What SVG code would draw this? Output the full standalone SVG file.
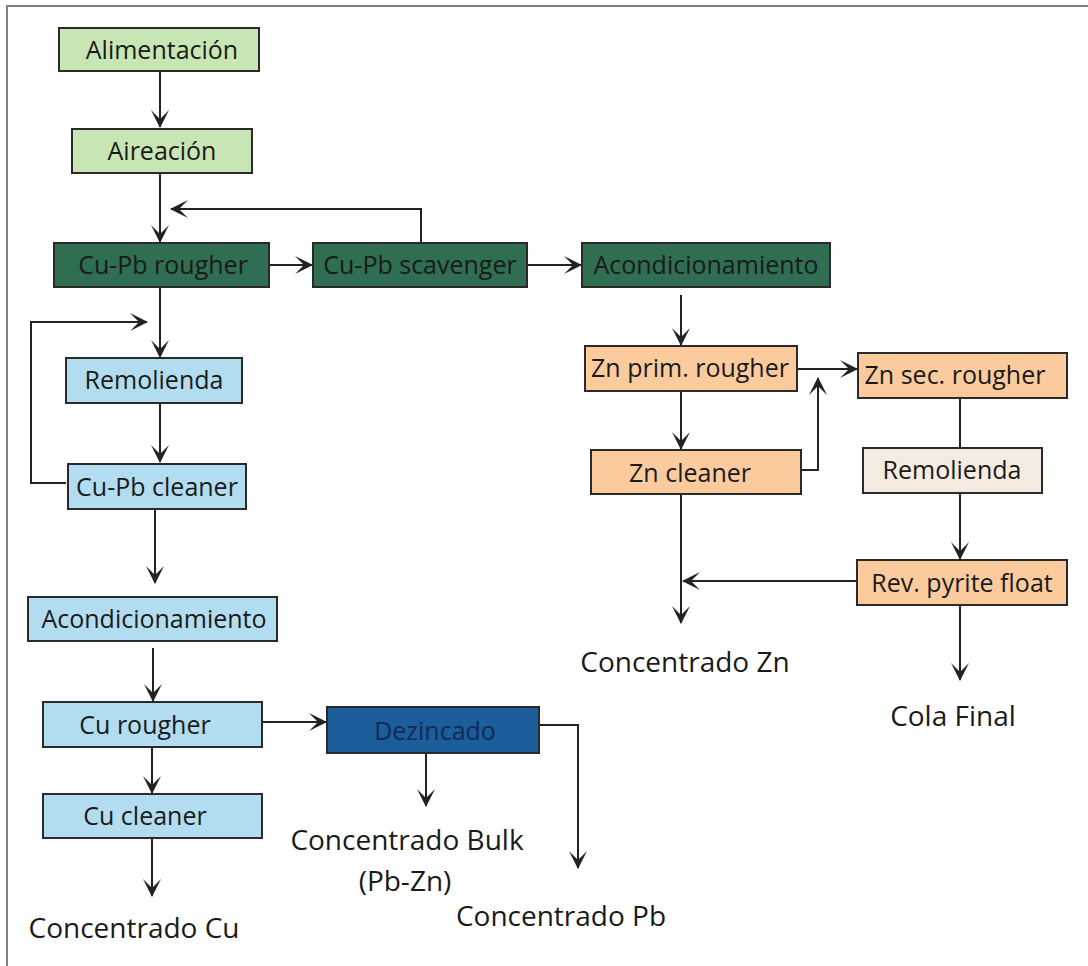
<svg xmlns="http://www.w3.org/2000/svg" width="1088" height="966" viewBox="0 0 1088 966">
<defs>
<style>
.n{stroke:#2a2a2a;stroke-width:2}
.lg{fill:#c8e6b4}
.dg{fill:#2f6e51}
.lb{fill:#b2ddf0}
.db{fill:#1c5d9c}
.or{fill:#fbcb9e}
.bg{fill:#f4ece1}
text{font-family:"Open Sans","Noto Sans","DejaVu Sans",sans-serif;font-size:25px;fill:#1a1a1a;text-anchor:middle}
.big{font-size:28px}
.c{fill:none;stroke:#222;stroke-width:2}
</style>
<marker id="a" viewBox="0 0 18 18" refX="17" refY="9" markerWidth="18" markerHeight="18" markerUnits="userSpaceOnUse" orient="auto">
<path d="M0,0 L18,9 L0,18 L9,9 Z" fill="#222"/>
</marker>
</defs>
<rect width="1088" height="966" fill="#fff"/>
<g id="frame"><path d="M7,966 V6 H1088" fill="none" stroke="#808080" stroke-width="2"/></g>
<g id="connectors">
<path class="c" d="M160,71 V127" marker-end="url(#a)"/>
<path class="c" d="M160,173 V242" marker-end="url(#a)"/>
<path class="c" d="M421,243 V209 H171" marker-end="url(#a)"/>
<path class="c" d="M269,265 H312" marker-end="url(#a)"/>
<path class="c" d="M527,265 H581" marker-end="url(#a)"/>
<path class="c" d="M160,287 V357" marker-end="url(#a)"/>
<path class="c" d="M66,483 H31 V322 H147" marker-end="url(#a)"/>
<path class="c" d="M160,403 V462" marker-end="url(#a)"/>
<path class="c" d="M155,509 V583" marker-end="url(#a)"/>
<path class="c" d="M153,648 V701" marker-end="url(#a)"/>
<path class="c" d="M152,747 V793" marker-end="url(#a)"/>
<path class="c" d="M152,838 V896" marker-end="url(#a)"/>
<path class="c" d="M261,722 H326" marker-end="url(#a)"/>
<path class="c" d="M426,753 V806" marker-end="url(#a)"/>
<path class="c" d="M539,725 H578 V868" marker-end="url(#a)"/>
<path class="c" d="M681,295 V345" marker-end="url(#a)"/>
<path class="c" d="M797,369 H857" marker-end="url(#a)"/>
<path class="c" d="M681,391 V449" marker-end="url(#a)"/>
<path class="c" d="M801,470 H818 V378" marker-end="url(#a)"/>
<path class="c" d="M681,494 V623" marker-end="url(#a)"/>
<path class="c" d="M960,398 V448"/>
<path class="c" d="M960,493 V559" marker-end="url(#a)"/>
<path class="c" d="M857,581 H683" marker-end="url(#a)"/>
<path class="c" d="M960,605 V680" marker-end="url(#a)"/>
</g>
<g id="n-alimentacion"><rect class="n lg" x="59" y="28" width="200" height="43"/><text x="162" y="59">Alimentación</text></g>
<g id="n-aireacion"><rect class="n lg" x="72" y="129" width="180" height="44"/><text x="162" y="160">Aireación</text></g>
<g id="n-cupb-rougher"><rect class="n dg" x="54" y="243" width="215" height="44"/><text x="163" y="274">Cu-Pb rougher</text></g>
<g id="n-cupb-scavenger"><rect class="n dg" x="313" y="243" width="214" height="44"/><text x="420" y="274">Cu-Pb scavenger</text></g>
<g id="n-acond-zn"><rect class="n dg" x="582" y="243" width="248" height="44"/><text x="706" y="274">Acondicionamiento</text></g>
<g id="n-remolienda-1"><rect class="n lb" x="66" y="358" width="176" height="45"/><text x="154" y="389">Remolienda</text></g>
<g id="n-cupb-cleaner"><rect class="n lb" x="68" y="464" width="178" height="45"/><text x="157" y="496">Cu-Pb cleaner</text></g>
<g id="n-acond-cu"><rect class="n lb" x="28" y="597" width="249" height="44"/><text x="154" y="628">Acondicionamiento</text></g>
<g id="n-cu-rougher"><rect class="n lb" x="43" y="702" width="219" height="45"/><text x="145" y="734">Cu rougher</text></g>
<g id="n-dezincado"><rect class="n db" x="327" y="707" width="212" height="46"/><text x="435" y="740" style="fill:#112a55">Dezincado</text></g>
<g id="n-cu-cleaner"><rect class="n lb" x="43" y="794" width="219" height="44"/><text x="145" y="825">Cu cleaner</text></g>
<g id="n-zn-prim"><rect class="n or" x="585" y="346" width="212" height="45"/><text x="690" y="377">Zn prim. rougher</text></g>
<g id="n-zn-sec"><rect class="n or" x="858" y="353" width="209" height="45"/><text x="955" y="384">Zn sec. rougher</text></g>
<g id="n-zn-cleaner"><rect class="n or" x="591" y="450" width="210" height="44"/><text x="690" y="482">Zn cleaner</text></g>
<g id="n-remolienda-2"><rect class="n bg" x="863" y="448" width="179" height="45"/><text x="952" y="479">Remolienda</text></g>
<g id="n-rev-pyrite"><rect class="n or" x="857" y="560" width="210" height="45"/><text x="962" y="592">Rev. pyrite float</text></g>
<g id="t-conc-zn"><text class="big" x="685" y="672">Concentrado Zn</text></g>
<g id="t-cola"><text class="big" x="953" y="726">Cola Final</text></g>
<g id="t-bulk"><text class="big" x="407" y="850">Concentrado Bulk</text><text class="big" x="405" y="891">(Pb-Zn)</text></g>
<g id="t-conc-pb"><text class="big" x="561" y="926">Concentrado Pb</text></g>
<g id="t-conc-cu"><text class="big" x="134" y="938">Concentrado Cu</text></g>
</svg>
